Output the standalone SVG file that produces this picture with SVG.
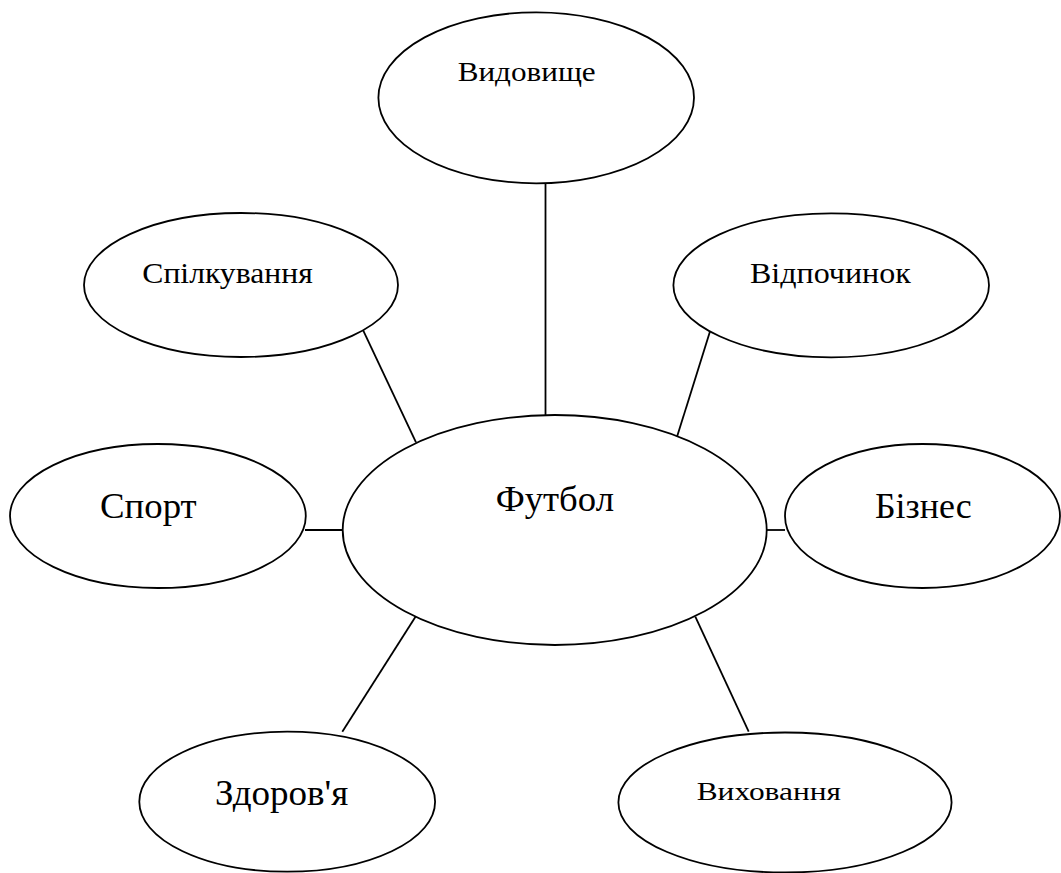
<svg xmlns="http://www.w3.org/2000/svg" width="1061" height="873" viewBox="0 0 1061 873">
<style>
.n{fill:#fff;stroke:#000;stroke-width:1.8}
.c line{stroke:#000;stroke-width:1.8}
text{font-family:"Liberation Serif","DejaVu Serif",serif;fill:#000}
</style>
<rect width="1061" height="873" fill="#fff"/>
<g class="c" id="connectors">
<line x1="545.5" y1="183" x2="545.5" y2="415"/>
<line x1="362.7" y1="329.3" x2="416" y2="442.3"/>
<line x1="711" y1="328.3" x2="675" y2="443.3"/>
<line x1="305" y1="530" x2="343" y2="530"/>
<line x1="767" y1="530" x2="785" y2="530"/>
<line x1="415.5" y1="616.7" x2="342.3" y2="731.7"/>
<line x1="695.3" y1="616.7" x2="748.7" y2="731.7"/>
</g>
<g id="vydovyshche"><ellipse class="n" cx="536.2" cy="97.8" rx="157.8" ry="85.5"/><text x="457.7" y="80.7" font-size="27" textLength="138" lengthAdjust="spacingAndGlyphs">Видовище</text></g>
<g id="spilkuvannia"><ellipse class="n" cx="241" cy="285" rx="157" ry="72"/><text x="142.3" y="282.7" font-size="30" textLength="170.4" lengthAdjust="spacingAndGlyphs">Спілкування</text></g>
<g id="vidpochynok"><ellipse class="n" cx="831.2" cy="285.3" rx="157.8" ry="72"/><text x="750" y="283.3" font-size="30" textLength="160.7" lengthAdjust="spacingAndGlyphs">Відпочинок</text></g>
<g id="sport"><ellipse class="n" cx="157.9" cy="516" rx="147.9" ry="72"/><text x="100" y="518.3" font-size="36" textLength="96.7" lengthAdjust="spacingAndGlyphs">Спорт</text></g>
<g id="futbol"><ellipse class="n" cx="554.7" cy="530" rx="212" ry="115"/><text x="495.7" y="511" font-size="36" textLength="118.3" lengthAdjust="spacingAndGlyphs">Футбол</text></g>
<g id="biznes"><ellipse class="n" cx="922.5" cy="516" rx="137.5" ry="72"/><text x="875" y="517.7" font-size="36" textLength="96.7" lengthAdjust="spacingAndGlyphs">Бізнес</text></g>
<g id="zdorovia"><ellipse class="n" cx="287.2" cy="801.7" rx="147.9" ry="70"/><text x="215" y="805" font-size="35" textLength="133.3" lengthAdjust="spacingAndGlyphs">Здоров'я</text></g>
<g id="vykhovannia"><ellipse class="n" cx="785" cy="802.5" rx="166.6" ry="70"/><text x="696.7" y="800" font-size="26" textLength="144.3" lengthAdjust="spacingAndGlyphs">Виховання</text></g>
</svg>
